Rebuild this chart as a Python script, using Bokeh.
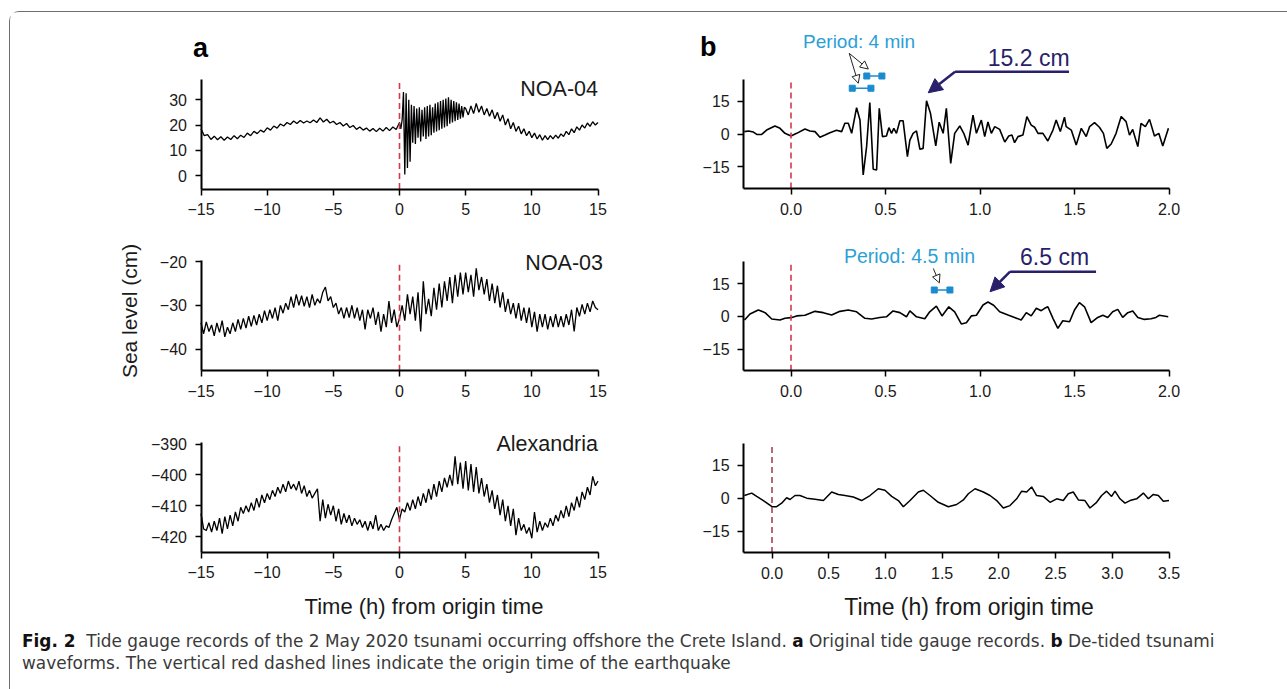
import numpy as np
from bokeh.plotting import figure
from bokeh.layouts import column, row
from bokeh.models import Div, Label, Arrow, NormalHead, FixedTicker, Range1d, CustomJSTickFormatter
from bokeh.embed import file_html
from bokeh.resources import INLINE

# ---------------- data ----------------
# (a) NOA-04 original record, three sampling segments
a1_pre = [18.5, 15.8, 16.2, 14.3, 15.6, 14.2, 15.4, 14.0, 15.3, 14.3,
          15.8, 14.6, 16.0, 15.1, 16.8, 15.8, 17.5, 16.6, 18.0, 17.2,
          18.9, 18.0, 19.6, 18.8, 20.4, 19.6, 21.0, 20.2, 21.6, 20.6,
          21.8, 20.8, 21.6, 20.9, 22.0, 21.0, 22.8, 21.2, 22.3, 20.8,
          21.5, 20.2, 21.0, 19.6, 20.6, 19.0, 19.8, 18.3, 19.2, 18.0,
          18.8, 17.6, 18.6, 17.4, 18.7, 17.6, 19.0, 17.8, 19.2, 18.2]
a1_mid = [21.0, 18.5, 22.0, 33.0, 0.5, 32.5, 3.0, 30.0, 5.5, 28.0,
          13.0, 27.5, 12.5, 26.5, 15.0, 27.0, 13.5, 26.0, 15.5, 27.0,
          14.5, 27.5, 15.5, 28.0, 16.0, 27.0, 17.0, 28.5, 17.5, 29.0,
          18.0, 29.5, 18.5, 30.0, 19.0, 30.5, 19.5, 31.0, 20.5, 30.0,
          21.0, 29.5, 21.5, 29.0, 22.0, 28.5, 22.5, 27.5, 23.0, 27.0]
a1_post = [26.5, 24.0, 27.5, 24.5, 28.5, 25.0, 27.5, 24.0, 26.5, 23.5,
           26.0, 22.5, 25.0, 21.5, 24.0, 20.0, 22.5, 18.5, 21.0, 17.5,
           19.5, 16.5, 18.5, 15.8, 17.5, 15.0, 16.8, 14.5, 16.2, 14.0,
           15.8, 14.2, 15.8, 14.5, 16.0, 14.8, 16.5, 15.5, 17.5, 16.2,
           18.5, 17.0, 19.3, 18.0, 20.0, 18.8, 20.8, 19.5, 21.3, 20.0,
           21.0]
# (a) NOA-03, every 0.2 h from -15 to 15
a2_vals = [-34.0, -36.5, -33.8, -36.0, -34.5, -37.0, -34.0, -36.2, -33.5, -37.2,
           -35.0, -36.5, -34.0, -36.0, -33.2, -35.5, -33.0, -35.2, -32.5, -34.8,
           -32.3, -34.5, -32.0, -34.0, -31.2, -33.5, -31.0, -33.0, -30.5, -33.5,
           -30.0, -31.8, -29.5, -31.0, -28.0, -30.5, -27.5, -30.0, -27.8, -30.2,
           -28.0, -30.5, -27.5, -30.0, -28.5, -29.5, -27.0, -25.8, -29.0, -28.0,
           -30.5, -29.5, -32.0, -30.5, -33.0, -30.5, -32.8, -30.0, -33.0, -30.5,
           -33.5, -31.0, -35.5, -31.0, -33.0, -30.5, -34.5, -31.5, -36.0, -32.0,
           -35.0, -29.0, -34.0, -31.0, -35.0, -33.0, -30.0, -33.5, -27.5, -32.0,
           -28.0, -33.5, -27.0, -36.0, -24.5, -32.0, -28.5, -32.5, -26.0, -31.0,
           -25.0, -30.5, -24.5, -29.0, -23.5, -29.5, -23.0, -28.0, -22.5, -27.5,
           -22.5, -27.0, -23.0, -28.0, -21.5, -26.5, -23.5, -27.5, -24.0, -29.0,
           -25.0, -29.5, -25.5, -30.5, -27.0, -31.5, -28.5, -32.0, -29.5, -33.0,
           -29.5, -33.5, -30.5, -34.0, -30.5, -35.0, -31.5, -36.0, -32.0, -35.0,
           -32.0, -35.5, -32.5, -35.0, -32.0, -35.0, -32.5, -35.0, -32.0, -34.5,
           -31.0, -36.0, -30.5, -32.5, -29.8, -32.0, -29.5, -31.5, -29.0, -30.5,
           -31.0]
# (a) Alexandria, every 0.2 h from -15 to 15
a3_vals = [-412.5, -417.5, -418.0, -415.5, -418.5, -415.0, -418.0, -414.0, -419.0, -413.5,
           -417.5, -413.0, -416.5, -412.0, -415.0, -410.5, -412.5, -410.0, -412.0, -409.0,
           -411.5, -407.5, -410.5, -406.5, -409.0, -406.0, -408.0, -405.0, -407.0, -404.0,
           -406.0, -403.0, -405.5, -402.0, -404.5, -403.0, -405.0, -402.0, -406.0, -403.5,
           -407.0, -405.0, -407.5, -406.0, -404.5, -415.0, -408.0, -414.0, -409.5, -413.0,
           -410.0, -415.0, -411.0, -416.0, -412.5, -415.5, -413.0, -416.5, -414.0, -416.0,
           -414.5, -417.0, -415.0, -418.0, -415.0, -417.5, -413.0, -418.0, -416.0, -418.0,
           -416.5, -417.0, -414.5, -412.5, -410.5, -414.5, -411.0, -412.0, -409.0, -411.5,
           -408.0, -411.0, -407.0, -410.0, -406.0, -409.0, -404.5, -408.0, -403.0, -407.0,
           -402.0, -405.5, -401.0, -404.0, -400.0, -403.5, -394.0, -403.0, -396.0, -404.5,
           -395.5, -405.0, -396.5, -405.5, -397.5, -406.0, -401.0, -407.0, -403.0, -409.0,
           -405.0, -411.0, -406.5, -413.0, -408.0, -415.0, -410.0, -416.5, -411.0, -419.5,
           -414.0, -418.0, -416.0, -419.0, -417.0, -420.5, -412.0, -418.5, -415.0, -418.0,
           -415.5, -417.0, -414.0, -416.5, -413.0, -415.0, -411.5, -414.0, -410.0, -413.5,
           -409.0, -411.5, -407.0, -410.5, -405.5, -408.0, -404.0, -406.5, -400.5, -403.5,
           -402.0]

# (b) de-tided NOA-04
b1_t = [-0.247, -0.225, -0.199, -0.181, -0.155, -0.129, -0.085, -0.058, -0.032, 0.000,
        0.030, 0.074, 0.100, 0.127, 0.153, 0.180, 0.206, 0.241, 0.268, 0.285,
        0.303, 0.321, 0.347, 0.365, 0.382, 0.400, 0.417, 0.435, 0.453, 0.467,
        0.484, 0.505, 0.518, 0.532, 0.544, 0.558, 0.576, 0.593, 0.616, 0.629,
        0.646, 0.664, 0.682, 0.699, 0.717, 0.738, 0.766, 0.784, 0.805, 0.822,
        0.845, 0.866, 0.893, 0.914, 0.937, 0.963, 0.981, 1.007, 1.025, 1.042,
        1.060, 1.078, 1.104, 1.131, 1.152, 1.169, 1.183, 1.201, 1.227, 1.248,
        1.271, 1.289, 1.307, 1.333, 1.359, 1.386, 1.403, 1.425, 1.447, 1.456,
        1.483, 1.509, 1.536, 1.562, 1.580, 1.606, 1.632, 1.653, 1.671, 1.694,
        1.720, 1.747, 1.773, 1.791, 1.808, 1.835, 1.852, 1.875, 1.897, 1.923,
        1.946, 1.967, 1.997]
b1_v = [1.1, 1.4, 0.9, -0.2, -0.2, 1.8, 3.7, 2.6, 0.3, -0.9,
        0.3, 2.3, 1.4, 1.1, -1.5, -0.5, 0.6, 1.7, 1.1, 4.9,
        4.9, 0.3, 12.1, 6.4, -18.8, -5.8, 14.4, -16.2, -16.5, 11.8,
        -1.2, -0.9, 2.9, 0.3, 2.6, 0.3, 6.1, 6.1, -10.4, -2.8,
        0.3, 1.4, -7.0, -6.6, 15.2, 9.5, -5.5, 5.4, 0.3, 11.8,
        -13.5, 0.3, 3.7, 0.3, -5.1, 8.7, 0.3, 6.4, -1.2, 5.5,
        0.3, 3.4, 2.1, -3.7, -0.9, -0.5, -4.0, -1.2, -0.5, 8.0,
        4.1, 3.1, 0.3, 0.3, -3.2, 1.8, 6.4, 1.1, 7.7, 3.4,
        1.8, -5.1, 2.6, -1.2, 3.4, 5.2, 3.1, 0.3, -6.6, -4.6,
        0.3, 8.0, 5.7, -0.5, 2.1, -5.8, 4.9, 3.4, 6.7, -0.9,
        0.3, -5.5, 2.6]
# (b) de-tided NOA-03
b2_t = [-0.246, -0.217, -0.173, -0.137, -0.102, -0.058, -0.032, 0.000, 0.030, 0.074,
        0.127, 0.171, 0.215, 0.259, 0.303, 0.347, 0.391, 0.426, 0.470, 0.505,
        0.540, 0.576, 0.611, 0.629, 0.664, 0.708, 0.734, 0.769, 0.799, 0.835,
        0.866, 0.901, 0.928, 0.954, 0.981, 1.016, 1.042, 1.072, 1.104, 1.148,
        1.183, 1.218, 1.245, 1.271, 1.298, 1.324, 1.342, 1.359, 1.386, 1.412,
        1.438, 1.474, 1.500, 1.526, 1.553, 1.588, 1.623, 1.650, 1.676, 1.702,
        1.729, 1.755, 1.782, 1.808, 1.835, 1.870, 1.905, 1.931, 1.949, 1.996]
b2_v = [-1.7, 1.1, 2.9, 1.7, -1.2, -1.7, -0.9, -0.6, 0.2, 0.5,
        2.3, 1.7, 0.6, 2.3, 2.9, 2.1, -0.9, -1.2, -0.5, -0.2,
        2.5, 1.7, -0.2, 2.5, -0.2, -1.1, 2.1, 4.7, 0.2, 4.4,
        2.1, -3.5, -2.9, 0.2, 0.5, 5.2, 6.6, 5.1, 2.1, 0.6,
        -0.5, -1.7, 1.7, 0.2, 3.7, 2.6, 3.7, 4.4, -0.9, -5.5,
        -2.0, -2.5, 2.9, 6.3, 4.4, -2.9, -0.5, 0.5, -0.5, 2.1,
        3.2, -0.5, 1.7, 2.5, -0.5, -1.4, -1.1, -0.5, 0.5, -0.2]
# (b) de-tided Alexandria
b3_t = [-0.244, -0.179, -0.135, -0.076, 0.000, 0.041, 0.085, 0.129, 0.159, 0.203,
        0.247, 0.306, 0.379, 0.453, 0.526, 0.585, 0.644, 0.717, 0.790, 0.864,
        0.937, 0.996, 1.055, 1.114, 1.158, 1.217, 1.290, 1.334, 1.393, 1.466,
        1.555, 1.628, 1.687, 1.731, 1.790, 1.863, 1.922, 1.981, 2.039, 2.098,
        2.157, 2.201, 2.245, 2.289, 2.333, 2.392, 2.451, 2.510, 2.568, 2.612,
        2.656, 2.701, 2.759, 2.803, 2.862, 2.906, 2.950, 2.994, 3.024, 3.068,
        3.112, 3.156, 3.215, 3.274, 3.318, 3.362, 3.406, 3.450, 3.500]
b3_v = [1.2, 2.3, 0.8, -1.1, -3.9, -3.9, -2.3, 0.2, -0.6, 1.2,
        1.2, 0.0, -0.5, -1.1, 2.8, 1.7, 1.2, 0.5, -1.1, 1.2,
        4.3, 3.6, 0.8, -1.1, -3.9, -1.1, 2.8, 3.6, 1.2, -1.9,
        -3.9, -2.9, -0.8, 2.0, 4.3, 2.8, 1.2, -1.1, -4.5, -3.4,
        -0.3, 3.2, 2.8, 5.1, 1.2, 0.8, -1.9, -0.3, -1.1, 2.0,
        2.8, -0.8, -1.1, -4.5, -1.9, 1.2, 3.2, 0.8, 3.2, -0.3,
        -2.3, -1.1, -0.3, 2.3, -0.3, 1.7, 1.2, -1.4, -1.1]

stations = ["NOA-04", "NOA-03", "Alexandria"]
a_xticks = [-15, -10, -5, 0, 5, 10, 15]
b_xticks_short = [0.0, 0.5, 1.0, 1.5, 2.0]
b_xticks_long = [0.0, 0.5, 1.0, 1.5, 2.0, 2.5, 3.0, 3.5]
a1_yticks = [0, 10, 20, 30]
a2_yticks = [-40, -30, -20]
a3_yticks = [-420, -410, -400, -390]
b_yticks = [-15, 0, 15]

# sample times
a1_t = np.concatenate([np.linspace(-15, -0.25, len(a1_pre)),
                       np.linspace(0, 4.9, len(a1_mid)),
                       np.linspace(5, 15, len(a1_post))])
a1_vals = a1_pre + a1_mid + a1_post
a2_t = np.linspace(-15, 15, len(a2_vals))
a3_t = np.linspace(-15, 15, len(a3_vals))

# ---------------- styling ----------------
FONT = "Liberation Sans"
INK = "#1a1a1a"
RED = "#d23a4c"
CYAN_TXT = "#2c9fd6"
CYAN = "#1b8bd0"
NAVY = "#2a1f6a"

INT_FMT = "return tick < 0 ? '\u2212' + Math.abs(tick) : String(tick);"
DEC_FMT = "var s = Math.abs(tick).toFixed(1); return tick < 0 ? '\u2212' + s : s;"

# page layout of each figure (pixel boxes) and of each axis (pixel anchors)
COLS = [(10.5, 640.5), (640.5, 1275.5)]
ROWS = [(12.5, 232.5), (232.5, 414.5), (414.5, 624.5)]


def panel(col, rw, xmap, ymap, xvis, yvis, xticks, yticks, xfmt, red=RED):
    fx0, fx1 = COLS[col]
    fy0, fy1 = ROWS[rw]
    (xv0, xp0), (xv1, xp1) = xmap
    sx = (xp1 - xp0) / (xv1 - xv0)
    (yv0, yp0), (yv1, yp1) = ymap
    sy = (yp1 - yp0) / (yv1 - yv0)
    xr = Range1d(xv0 + (fx0 - xp0) / sx, xv0 + (fx1 - xp0) / sx)
    yr = Range1d(yv0 + (fy1 - yp0) / sy, yv0 + (fy0 - yp0) / sy)
    p = figure(width=int(round(fx1 - fx0)), height=int(round(fy1 - fy0)), x_range=xr, y_range=yr,
               output_backend="svg", toolbar_location=None,
               min_border_left=0, min_border_right=0, min_border_top=0, min_border_bottom=0)
    p.outline_line_color = None
    p.xgrid.visible = False
    p.ygrid.visible = False
    p.background_fill_color = "white"
    p.border_fill_color = "white"
    p.xaxis.ticker = FixedTicker(ticks=xticks)
    p.yaxis.ticker = FixedTicker(ticks=yticks)
    p.xaxis.bounds = xvis
    p.yaxis.bounds = yvis
    p.xaxis.fixed_location = yvis[0]
    p.yaxis.fixed_location = xvis[0]
    p.xaxis.formatter = CustomJSTickFormatter(code=xfmt)
    p.yaxis.formatter = CustomJSTickFormatter(code=INT_FMT)
    for ax in (p.xaxis, p.yaxis):
        ax.axis_line_width = 2
        ax.axis_line_color = "black"
        ax.major_tick_line_width = 1.5
        ax.major_tick_line_color = "black"
        ax.major_tick_out = 6
        ax.major_tick_in = 0
        ax.minor_tick_line_color = None
        ax.major_label_text_font = FONT
        ax.major_label_text_font_size = "16px"
        ax.major_label_text_color = INK
        ax.major_label_standoff = 8
    p.segment(x0=0, y0=yvis[0], x1=0, y1=yvis[1], line_color=red, line_width=1.6, line_dash="6 4")
    return p


def text(p, x, y, s, size, align="left", color=INK, bold=False, baseline="middle", angle=0.0):
    p.add_layout(Label(x=x, y=y, text=s, text_font=FONT, text_font_size=size,
                       text_align=align, text_baseline=baseline, text_color=color,
                       text_font_style="bold" if bold else "normal", angle=angle))


AX = ((-15, 201), (15, 598))
BX = ((0, 791), (2, 1169))
BX3 = ((0, 772), (3.5, 1169))

# ---- panel a ----
pa1 = panel(0, 0, AX, ((0, 175.7), (30, 99.7)), (-15, 15), (-5.25, 37.8), a_xticks, a1_yticks, INT_FMT)
pa1.line(a1_t, a1_vals, line_color="black", line_width=1.3)
pa1.renderers.append(pa1.renderers.pop(0))
text(pa1, 15, 34.2, stations[0], "21.5px", align="right")
text(pa1, -15.6, 50.4, "a", "27px", bold=True, baseline="alphabetic", color="black")

pa2 = panel(0, 1, AX, ((-40, 349), (-20, 261.7)), (-15, 15), (-44.97, -19.77), a_xticks, a2_yticks, INT_FMT)
pa2.line(a2_t, a2_vals, line_color="black", line_width=1.3)
pa2.renderers.append(pa2.renderers.pop(0))
text(pa2, 15.38, -20.37, stations[1], "21.5px", align="right")
text(pa2, -20.37, -31.29, "Sea level (cm)", "21px", align="center", angle=np.pi / 2)

pa3 = panel(0, 2, AX, ((-420, 536.7), (-390, 444)), (-15, 15), (-425.05, -389.6), a_xticks, a3_yticks, INT_FMT)
pa3.line(a3_t, a3_vals, line_color="black", line_width=1.3)
pa3.renderers.append(pa3.renderers.pop(0))
text(pa3, 15, -390.0, stations[2], "21.5px", align="right")
text(pa3, 1.85, -442.75, "Time (h) from origin time", "22px", align="center")

# ---- panel b ----
pb1 = panel(1, 0, BX, ((-15, 166.7), (15, 101.3)), (-0.25, 2.0), (-25, 25), b_xticks_short, b_yticks, DEC_FMT)
pb1.line(b1_t, b1_v, line_color="black", line_width=1.6)
pb1.renderers.append(pb1.renderers.pop(0))
text(pb1, -0.481, 39.9, "b", "27px", bold=True, baseline="alphabetic", color="black")
text(pb1, 0.360, 42.3, "Period: 4 min", "19px", align="center", color=CYAN_TXT)
text(pb1, 1.041, 34.7, "15.2 cm", "23px", color=NAVY)
pb1.line([1.471, 0.868], [28.6, 28.6], line_color=NAVY, line_width=2.5)
pb1.add_layout(Arrow(end=NormalHead(size=14, fill_color=NAVY, line_color=NAVY),
                     x_start=0.868, y_start=28.6, x_end=0.726, y_end=18.9,
                     line_color=NAVY, line_width=2.5))
for hx, hy in [(0.409, 29.8), (0.356, 23.3)]:
    pb1.add_layout(Arrow(end=NormalHead(size=8, fill_color="white", line_color="#222222", line_width=1),
                         x_start=0.308, y_start=37.0, x_end=hx, y_end=hy,
                         line_color="#222222", line_width=1))
pb1.segment(x0=[0.324, 0.401], y0=[21.0, 26.6], x1=[0.423, 0.481], y1=[21.0, 26.6],
            line_color=CYAN, line_width=1.5)
pb1.scatter([0.324, 0.423, 0.401, 0.481], [21.0, 21.0, 26.6, 26.6], marker="square",
            size=6, fill_color=CYAN, line_color=CYAN)

pb2 = panel(1, 1, BX, ((-15, 349), (15, 283.7)), (-0.25, 2.0), (-25, 25), b_xticks_short, b_yticks, DEC_FMT)
pb2.line(b2_t, b2_v, line_color="black", line_width=1.6)
pb2.renderers.append(pb2.renderers.pop(0))
text(pb2, 0.627, 27.7, "Period: 4.5 min", "19.5px", align="center", color=CYAN_TXT)
text(pb2, 1.212, 27.3, "6.5 cm", "23px", color=NAVY)
pb2.line([1.614, 1.159], [20.5, 20.5], line_color=NAVY, line_width=2.5)
pb2.add_layout(Arrow(end=NormalHead(size=14, fill_color=NAVY, line_color=NAVY),
                     x_start=1.159, y_start=20.5, x_end=1.053, y_end=11.3,
                     line_color=NAVY, line_width=2.5))
pb2.add_layout(Arrow(end=NormalHead(size=8, fill_color="white", line_color="#222222", line_width=1),
                     x_start=0.753, y_start=22.0, x_end=0.785, y_end=15.4,
                     line_color="#222222", line_width=1))
pb2.segment(x0=[0.758], y0=[12.1], x1=[0.841], y1=[12.1], line_color=CYAN, line_width=1.5)
pb2.scatter([0.758, 0.841], [12.1, 12.1], marker="square", size=6, fill_color=CYAN, line_color=CYAN)

pb3 = panel(1, 2, BX3, ((-15, 531), (15, 465.3)), (-0.25, 3.5), (-25, 25), b_xticks_long, b_yticks, DEC_FMT,
            red="#a8434f")
pb3.line(b3_t, b3_v, line_color="black", line_width=1.5)
pb3.renderers.append(pb3.renderers.pop(0))
text(pb3, 1.737, -49.7, "Time (h) from origin time", "23px", align="center")

LINE = "height:21.5px; line-height:21.5px; white-space:nowrap;"
B = '<span style="font-weight:700; color:#111;">'
caption_html = (
    '<div style="font-family: \'DejaVu Sans\', sans-serif; font-size: 18px; '
    'color: #3a3a3a; padding-left: 7px; padding-top: 1px;">'
    '<div style="display: inline-block; transform: scaleX(0.94); transform-origin: 0 0;">'
    '<div style="' + LINE + '">' + B + 'Fig. 2</span>&nbsp; Tide gauge records of the 2 May 2020 '
    'tsunami occurring offshore the Crete Island. ' + B + 'a</span> Original tide gauge records. '
    + B + 'b</span> De-tided tsunami</div>'
    '<div style="' + LINE + '">waveforms. The vertical red dashed lines indicate the origin time of the '
    'earthquake</div>'
    '</div></div>'
)
caption = Div(text=caption_html, width=1275, height=64)

layout = column(
    row(pa1, pb1), row(pa2, pb2), row(pa3, pb3), caption,
    styles={"border-left": "1.5px solid #6e6e6e", "border-top": "1.5px solid #6e6e6e",
            "border-top-left-radius": "10px", "margin-left": "9px", "margin-top": "11px"},
)

open("out.html", "w").write(file_html(layout, INLINE))
